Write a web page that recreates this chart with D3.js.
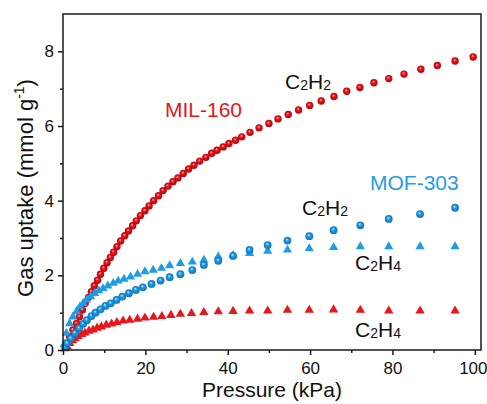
<!DOCTYPE html>
<html>
<head>
<meta charset="utf-8">
<title>Gas uptake isotherms</title>
<script src="https://cdn.jsdelivr.net/npm/d3@7"></script>
<style>
  body { margin: 0; background: #fff; }
  text { font-family: "Liberation Sans", Arial, sans-serif; }
</style>
</head>
<body>
<script>
// MIL-160, C2H2 (red spheres)
var milC2H2P = [0.8, 1.6, 2.4, 3.3, 4.0, 4.7, 5.4, 6.2, 6.9, 7.6, 8.4, 9.1, 9.9, 10.7, 11.5,
  12.3, 13.1, 14.0, 15.0, 15.9, 16.9, 17.8, 18.8, 19.9, 20.9, 22.0, 23.2, 24.3, 25.5, 26.7,
  27.9, 29.2, 30.5, 31.8, 33.2, 34.7, 36.1, 37.4, 38.9, 40.3, 41.9, 43.4, 45.4, 47.6, 50.0,
  52.2, 54.7, 57.2, 59.9, 62.7, 65.8, 68.9, 72.1, 75.5, 79.1, 82.8, 86.9, 90.9, 95.2, 99.6];
var milC2H2U = [0.18, 0.36, 0.54, 0.71, 0.89, 1.07, 1.25, 1.41, 1.56, 1.72, 1.87, 2.03, 2.19, 2.34, 2.48,
  2.62, 2.77, 2.92, 3.06, 3.19, 3.33, 3.46, 3.60, 3.73, 3.86, 4.00, 4.13, 4.27, 4.39, 4.51,
  4.61, 4.73, 4.85, 4.95, 5.06, 5.16, 5.27, 5.35, 5.44, 5.53, 5.62, 5.71, 5.83, 5.95, 6.07,
  6.19, 6.31, 6.43, 6.55, 6.67, 6.79, 6.93, 7.03, 7.16, 7.27, 7.39, 7.52, 7.62, 7.74, 7.85];

// MIL-160, C2H4 (red triangles)
var milC2H4P = [0.5, 1.0, 1.6, 2.3, 2.9, 3.6, 4.5, 5.3, 6.3, 7.3, 8.3, 9.3, 10.5, 11.8, 13.1, 14.6,
  16.2, 18.1, 19.9, 22.0, 24.0, 26.2, 28.5, 31.2, 34.2, 37.7, 41.3, 45.3, 49.7, 54.5, 59.8,
  65.7, 72.2, 79.1, 86.7, 95.2];
var milC2H4U = [0.04, 0.09, 0.18, 0.25, 0.31, 0.37, 0.42, 0.46, 0.51, 0.54, 0.59, 0.62, 0.67, 0.70, 0.74, 0.78,
  0.80, 0.83, 0.86, 0.88, 0.90, 0.93, 0.96, 0.98, 1.01, 1.03, 1.04, 1.05, 1.05, 1.07, 1.07,
  1.08, 1.07, 1.05, 1.05, 1.05];

// MOF-303, C2H2 (blue spheres)
var mofC2H2P = [0.5, 1.0, 1.9, 2.9, 3.9, 4.9, 5.8, 6.9, 7.9, 9.1, 10.3, 11.6, 13.0, 14.4, 16.0, 17.7,
  19.4, 21.5, 23.7, 25.9, 28.5, 31.4, 34.2, 37.7, 41.3, 45.3, 49.7, 54.5, 59.8, 65.7, 72.2,
  79.1, 86.7, 95.2];
var mofC2H2U = [0.08, 0.18, 0.31, 0.45, 0.58, 0.70, 0.80, 0.91, 1.00, 1.09, 1.18, 1.25, 1.34, 1.43, 1.52, 1.61,
  1.68, 1.77, 1.86, 1.95, 2.03, 2.14, 2.28, 2.39, 2.52, 2.68, 2.81, 2.93, 3.05, 3.21, 3.34,
  3.51, 3.64, 3.81];

// MOF-303, C2H4 (blue triangles)
var mofC2H4P = [0.3, 0.8, 1.6, 2.4, 3.3, 4.1, 4.9, 5.7, 6.7, 7.7, 8.7, 9.7, 10.9, 12.2, 13.4, 14.8,
  16.4, 18.1, 19.9, 21.9, 23.9, 25.9, 28.5, 31.4, 34.2, 37.7, 41.3, 45.3, 49.7, 54.5, 59.8,
  65.7, 72.2, 79.1, 86.7, 95.2];
var mofC2H4U = [0.15, 0.45, 0.71, 0.89, 1.03, 1.16, 1.25, 1.34, 1.43, 1.52, 1.59, 1.65, 1.72, 1.79, 1.85, 1.90,
  1.96, 2.03, 2.10, 2.14, 2.19, 2.26, 2.32, 2.36, 2.41, 2.50, 2.54, 2.59, 2.65, 2.68, 2.72,
  2.75, 2.77, 2.77, 2.77, 2.77];

var xTicks = [0, 20, 40, 60, 80, 100],
    xMinor = [10, 30, 50, 70, 90],
    yTicks = [0, 2, 4, 6, 8],
    yMinor = [1, 3, 5, 7];

var red = "#e8151c",
    blue = "#1f9ce4";

var w = 487, h = 404;
var svg = d3.select("body").append("svg")
    .attr("width", w)
    .attr("height", h);

var x = d3.scaleLinear().domain([0, 101.5]).range([63, 481]);
var y = d3.scaleLinear().domain([0, 9]).range([350, 14]);

// sphere shading for the round markers
var defs = svg.append("defs");
function sphere(id, light, mid, dark) {
  var g = defs.append("radialGradient").attr("id", id)
      .attr("cx", "50%").attr("cy", "50%").attr("r", "55%")
      .attr("fx", "42%").attr("fy", "35%");
  g.append("stop").attr("offset", "0%").attr("stop-color", light);
  g.append("stop").attr("offset", "35%").attr("stop-color", mid);
  g.append("stop").attr("offset", "100%").attr("stop-color", dark);
}
sphere("gRed", "#ffc4c4", red, "#b00008");
sphere("gBlue", "#d4efff", blue, "#0d6fb3");

function zip(px, py) {
  return px.map(function(p, i) { return {p: p, u: py[i]}; });
}

// MIL-160 C2H2
svg.append("g").selectAll("circle")
  .data(zip(milC2H2P, milC2H2U))
  .enter().append("circle")
    .attr("cx", function(d) { return x(d.p); })
    .attr("cy", function(d) { return y(d.u); })
    .attr("r", 3.7)
    .attr("fill", "url(#gRed)");

// MIL-160 C2H4
var tri = d3.symbol().type(d3.symbolTriangle).size(38);
svg.append("g").selectAll("path")
  .data(zip(milC2H4P, milC2H4U))
  .enter().append("path")
    .attr("d", tri)
    .attr("transform", function(d) { return "translate(" + x(d.p) + "," + y(d.u) + ")"; })
    .attr("fill", red);

// MOF-303 C2H4
var triB = d3.symbol().type(d3.symbolTriangle).size(36);
svg.append("g").selectAll("path")
  .data(zip(mofC2H4P, mofC2H4U))
  .enter().append("path")
    .attr("d", triB)
    .attr("transform", function(d) { return "translate(" + x(d.p) + "," + y(d.u) + ")"; })
    .attr("fill", blue);

// MOF-303 C2H2
svg.append("g").selectAll("circle")
  .data(zip(mofC2H2P, mofC2H2U))
  .enter().append("circle")
    .attr("cx", function(d) { return x(d.p); })
    .attr("cy", function(d) { return y(d.u); })
    .attr("r", 3.9)
    .attr("fill", "url(#gBlue)");

// frame
svg.append("rect")
  .attr("x", 63).attr("y", 14)
  .attr("width", 481 - 63).attr("height", 350 - 14)
  .attr("fill", "none")
  .attr("stroke", "#1a1a1a")
  .attr("stroke-width", 1.5);

// axes
function styleAxis(g) {
  g.select(".domain").remove();
  g.selectAll("line").attr("stroke", "#1a1a1a").attr("stroke-width", 1.5);
  g.selectAll("text").attr("fill", "#111").attr("font-size", 17)
    .attr("font-family", "'Liberation Sans', Arial, sans-serif");
}
svg.append("g").attr("transform", "translate(0,350)")
  .call(d3.axisBottom(x).tickValues(xTicks).tickSize(5).tickPadding(7))
  .call(styleAxis)
  .selectAll("text").filter(function(d) { return d === 100; })
    .attr("dx", -2);
svg.append("g").attr("transform", "translate(0,350)")
  .call(d3.axisBottom(x).tickValues(xMinor).tickSize(3).tickFormat(""))
  .call(styleAxis);
svg.append("g").attr("transform", "translate(63,0)")
  .call(d3.axisLeft(y).tickValues(yTicks).tickSize(5).tickPadding(4))
  .call(styleAxis);
svg.append("g").attr("transform", "translate(63,0)")
  .call(d3.axisLeft(y).tickValues(yMinor).tickSize(3).tickFormat(""))
  .call(styleAxis);

// axis titles
svg.append("text")
  .attr("x", 272).attr("y", 397)
  .attr("text-anchor", "middle")
  .attr("font-size", 21)
  .attr("fill", "#111")
  .text("Pressure (kPa)");

var yt = svg.append("text")
  .attr("transform", "translate(33,188) rotate(-90)")
  .attr("text-anchor", "middle")
  .attr("font-size", 22)
  .attr("fill", "#111");
yt.append("tspan").text("Gas uptake (mmol g");
yt.append("tspan").attr("font-size", 14).attr("dy", -9).text("-1");
yt.append("tspan").attr("dy", 9).text(")");

// curve labels
function formula(xp, yp, sub1, sub2, color) {
  var t = svg.append("text").attr("x", xp).attr("y", yp)
    .attr("font-size", 21).attr("fill", color);
  t.append("tspan").text("C");
  t.append("tspan").attr("font-size", 14).attr("dy", 1).text(sub1);
  t.append("tspan").attr("dy", -1).text("H");
  t.append("tspan").attr("font-size", 14).attr("dy", 1).text(sub2);
}
formula(285, 89, "2", "2", "#111");
formula(302, 215, "2", "2", "#111");
formula(355, 270, "2", "4", "#111");
formula(355, 337, "2", "4", "#111");

svg.append("text").attr("x", 165).attr("y", 117)
  .attr("font-size", 21).attr("fill", red).text("MIL-160");
svg.append("text").attr("x", 370).attr("y", 190)
  .attr("font-size", 21).attr("fill", "#2a9de2").text("MOF-303");
</script>
</body>
</html>
